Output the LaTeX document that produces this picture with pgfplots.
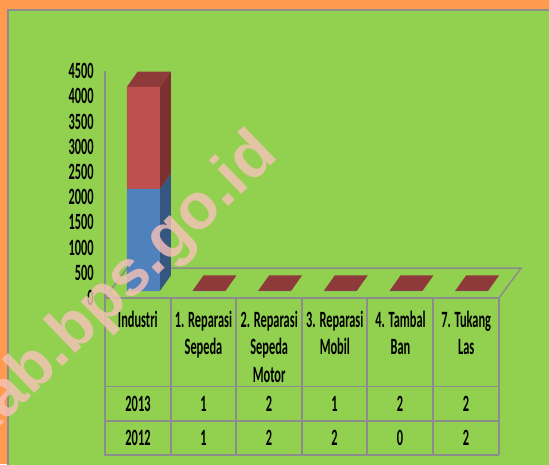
\documentclass[border=0pt]{standalone}
\usepackage{fontspec}
\usepackage{pgfplots}
\pgfplotsset{compat=1.18}
\newfontfamily\cf[FakeStretch=0.53]{Carlito}
\newfontfamily\wm{Liberation Sans}
\definecolor{bgorange}{HTML}{FF9A4F}
\definecolor{bggreen}{HTML}{92D050}
\definecolor{gridgray}{HTML}{8C8C8C}
\definecolor{sblue}{HTML}{4F81BD}
\definecolor{sred}{HTML}{C0504D}
\definecolor{sideblue}{HTML}{345681}
\definecolor{sidered}{HTML}{7C3030}
\definecolor{topred}{HTML}{8E3A3A}
\definecolor{wmcol}{HTML}{F8C2BA}
\newcommand{\tfont}{\cf\bfseries\fontsize{17.5}{20.6}\selectfont}
\pgfplotsset{common/.style={scale only axis,width=295.5pt,height=170.1pt,
  xmin=-0.5,xmax=5.5,ymin=0,ymax=4500,clip=false}}
\begin{document}
\begin{tikzpicture}[x=0.75pt,y=-0.75pt]
\useasboundingbox (0,0) rectangle (549,464);
\clip (0,0) rectangle (549,464);
\fill[bgorange] (0,0) rectangle (549,464);
\fill[bggreen,draw=gridgray,line width=1pt] (8,10) rectangle (560,480);
% frame, ticks and header labels
\begin{axis}[common,at={(78.75pt,-223.5pt)},anchor=south west,
  axis y line=left,axis x line=bottom,
  axis line style={gridgray,line width=1.1pt,-},
  major tick length=0pt,
  ytick={0,500,1000,1500,2000,2500,3000,3500,4000,4500},
  xtick={0,1,2,3,4,5},
  xticklabels={Industri,1. Reparasi\\Sepeda,2. Reparasi\\Sepeda\\Motor,3. Reparasi\\Mobil,4. Tambal\\Ban,7. Tukang\\Las},
  x tick label style={font=\tfont,align=center,anchor=north,yshift=-6pt},
  y tick label style={font=\tfont,anchor=east,xshift=-5pt,
    /pgf/number format/assume math mode=true,
    /pgf/number format/set thousands separator={}},
]
\addplot[gridgray,line width=1.1pt] coordinates {(-0.5,0) (-0.165,595)};
\addplot[gridgray,line width=1.1pt] coordinates {(-0.165,595) (5.835,595) (5.5,0)};
\end{axis}
% 3-D faces, shifted onto the bar plane
\begin{axis}[common,at={(82.875pt,-218.25pt)},anchor=south west,hide axis]
\addplot[fill=sideblue,draw=none] coordinates {(0.251,0) (0.418,307) (0.418,2331) (0.251,2024)} --cycle;
\addplot[fill=sidered,draw=none] coordinates {(0.251,2024) (0.418,2331) (0.418,4355) (0.251,4048)} --cycle;
\addplot[fill=topred,draw=none] coordinates {(-0.251,4048) (0.251,4048) (0.418,4355) (-0.084,4355)} --cycle;
\addplot[fill=topred,draw=none] coordinates {(0.749,2) (1.251,2) (1.418,309) (0.916,309)} --cycle;
\addplot[fill=topred,draw=none] coordinates {(1.749,4) (2.251,4) (2.418,311) (1.916,311)} --cycle;
\addplot[fill=topred,draw=none] coordinates {(2.749,3) (3.251,3) (3.418,310) (2.916,310)} --cycle;
\addplot[fill=topred,draw=none] coordinates {(3.749,2) (4.251,2) (4.418,309) (3.916,309)} --cycle;
\addplot[fill=topred,draw=none] coordinates {(4.749,4) (5.251,4) (5.418,311) (4.916,311)} --cycle;
\end{axis}
% stacked bars
\begin{axis}[common,at={(82.875pt,-218.25pt)},anchor=south west,hide axis,ybar stacked,bar width=24.75pt]
\addplot[fill=sblue,draw=none] coordinates {(0,2024) (1,1) (2,2) (3,1) (4,2) (5,2)};
\addplot[fill=sred,draw=none] coordinates {(0,2024) (1,1) (2,2) (3,2) (4,0) (5,2)};
\end{axis}
% data table
\begin{scope}[gridgray,line width=1.1pt]
\draw (104,386.5) -- (499,386.5) (104,421) -- (499,421) (104,455) -- (499,455);
\foreach \x in {105,171,236,302,367,433,499}{\draw (\x,298) -- (\x,455);}
\end{scope}
\foreach \x/\a/\b in {138/2013/2012,203.5/1/1,269/2/2,334.5/1/2,400/2/0,466/2/2}{
  \node[font=\tfont] at (\x,404) {\a};
  \node[font=\tfont] at (\x,438) {\b};
}
% watermark
\node[anchor=base west,rotate=44,inner sep=0pt,text=wmcol,text opacity=0.8,
  font=\wm\bfseries\fontsize{48.5}{50}\selectfont] at (-20.5,447) {kab.bps.go.id};
\end{tikzpicture}
\end{document}
